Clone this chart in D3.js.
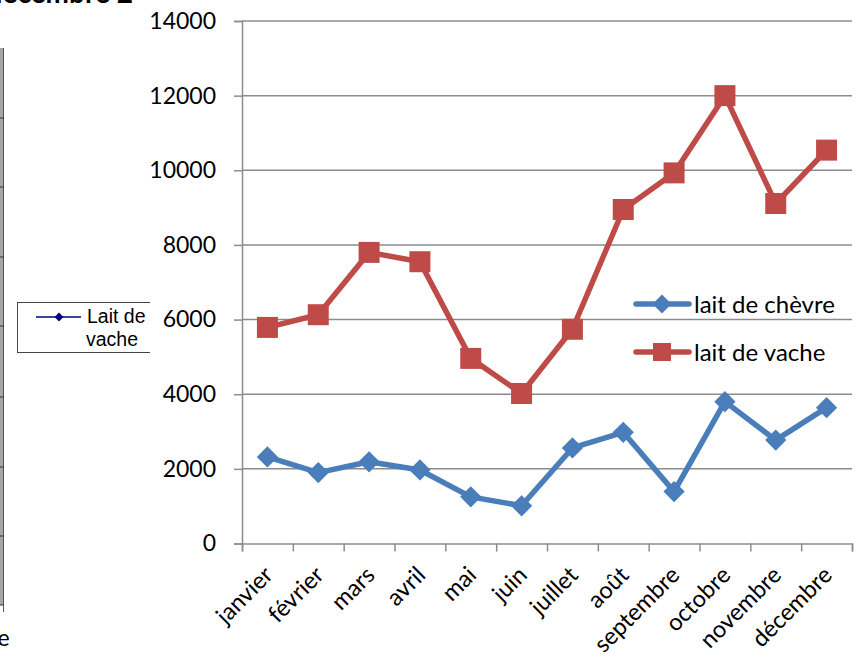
<!DOCTYPE html>
<html>
<head>
<meta charset="utf-8">
<script src="https://cdn.jsdelivr.net/npm/d3@7"></script>
<style>
  body { margin: 0; background: #fff; }
  svg { display: block; }
  .lbl { font-family: Lato, "Open Sans", sans-serif; fill: #000; }
</style>
</head>
<body>
<div id="chart"></div>
<script>
// data
const months = ["janvier", "février", "mars", "avril", "mai", "juin", "juillet",
  "août", "septembre", "octobre", "novembre", "décembre"];
const laitChevre = [2320, 1900, 2190, 1970, 1250, 1010, 2560, 2980, 1390, 3800, 2770, 3640];
const laitVache = [5790, 6130, 7800, 7550, 4960, 4020, 5740, 8950, 9930, 12000, 9110, 10540];
const yTicks = [0, 2000, 4000, 6000, 8000, 10000, 12000, 14000];
const seriesNames = ["lait de chèvre", "lait de vache"];

const W = 857, H = 661;
const plot = {left: 242, right: 852, top: 21, bottom: 543.5};

const svg = d3.select("#chart").append("svg")
  .attr("width", W)
  .attr("height", H);

// ---- bit of the other chart peeking in on the left ----
const old = svg.append("g");
old.append("text")
  .attr("x", 133).attr("y", 3)
  .attr("text-anchor", "end")
  .attr("font-family", "Lato, sans-serif")
  .attr("font-weight", "bold")
  .attr("font-size", 28)
  .text("décembre 2");

old.append("rect")
  .attr("x", 0).attr("y", 48).attr("width", 3.5).attr("height", 557)
  .attr("fill", "#a6a6a6");
old.append("line")
  .attr("x1", 3.5).attr("x2", 3.5).attr("y1", 48).attr("y2", 612)
  .attr("stroke", "#555").attr("stroke-width", 1);
[118, 187, 257, 326, 397, 467, 536, 605].forEach(t => {
  old.append("line")
    .attr("x1", 0).attr("x2", 4).attr("y1", t).attr("y2", t)
    .attr("stroke", "#333").attr("stroke-width", 1);
});
old.append("text")
  .attr("x", -8).attr("y", 646)
  .attr("font-family", "Lato, sans-serif")
  .attr("font-size", 23)
  .text("le");

const oldLeg = old.append("g");
oldLeg.append("rect")
  .attr("x", 17.5).attr("y", 302.5).attr("width", 160).attr("height", 50)
  .attr("fill", "#fff").attr("stroke", "#444");
oldLeg.append("line")
  .attr("x1", 36).attr("x2", 81).attr("y1", 317).attr("y2", 317)
  .attr("stroke", "#000080").attr("stroke-width", 1.5);
oldLeg.append("path")
  .attr("d", d3.symbol(d3.symbolDiamond2, 50)())
  .attr("transform", "translate(59,317)")
  .attr("fill", "#000080");
oldLeg.append("text")
  .attr("x", 87).attr("y", 323)
  .attr("font-family", "Liberation Sans, Arial, sans-serif")
  .attr("font-size", 19.5)
  .text("Lait de");
oldLeg.append("text")
  .attr("x", 86).attr("y", 346)
  .attr("font-family", "Liberation Sans, Arial, sans-serif")
  .attr("font-size", 19.5)
  .text("vache");

// main chart sits over it
svg.append("rect")
  .attr("x", 150).attr("y", 0).attr("width", W - 150).attr("height", H)
  .attr("fill", "#fff");

// ---- scales ----
const x = d3.scaleBand().domain(months).range([plot.left, plot.right]);
const xEdge = d3.scaleLinear().domain([0, months.length]).range([plot.left, plot.right]);
const y = d3.scaleLinear().domain([0, 14000]).range([plot.bottom, plot.top]);

// gridlines
svg.append("g")
  .selectAll("line")
  .data(yTicks.filter(d => d > 0))
  .join("line")
    .attr("x1", plot.left).attr("x2", plot.right)
    .attr("y1", d => y(d)).attr("y2", d => y(d))
    .attr("stroke", "#8c8c8c").attr("stroke-width", 1.5);

// y axis
const yAxis = svg.append("g")
  .attr("transform", `translate(${plot.left},0)`)
  .call(d3.axisLeft(y).tickValues(yTicks).tickSize(8).tickPadding(18).tickFormat(d3.format("d")));
yAxis.select(".domain").attr("stroke", "#8c8c8c").attr("stroke-width", 1.5);
yAxis.selectAll(".tick line").attr("stroke", "#8c8c8c").attr("stroke-width", 1.5);
yAxis.selectAll("text")
  .attr("class", "lbl")
  .attr("font-size", 23)
  .attr("fill", "#000");

// x axis (ticks between categories)
const xAxis = svg.append("g")
  .attr("transform", `translate(0,${plot.bottom})`)
  .call(d3.axisBottom(xEdge).tickValues(d3.range(months.length + 1)).tickSize(8).tickFormat(""));
xAxis.select(".domain").attr("stroke", "#8c8c8c").attr("stroke-width", 1.5);
xAxis.selectAll(".tick line").attr("stroke", "#8c8c8c").attr("stroke-width", 1.5);

svg.append("g")
  .selectAll("text")
  .data(months)
  .join("text")
    .attr("class", "lbl")
    .attr("font-size", 23.5)
    .attr("text-anchor", "end")
    .attr("transform", d => `translate(${x(d) + x.bandwidth() / 2 + 7},${plot.bottom + 33}) rotate(-45)`)
    .text(d => d);

// ---- series ----
const colors = ["#4a7ebb", "#be4b48"];
const series = [laitChevre, laitVache];
const line = d3.line()
  .x((d, i) => x(months[i]) + x.bandwidth() / 2)
  .y(d => y(d));

function marker(g, k, size) {
  if (k === 0) {
    g.append("path")
      .attr("d", d3.symbol(d3.symbolDiamond2, size * 1.2)())
      .attr("fill", colors[0]);
  } else {
    g.append("rect")
      .attr("x", -Math.sqrt(size) / 2).attr("y", -Math.sqrt(size) / 2)
      .attr("width", Math.sqrt(size)).attr("height", Math.sqrt(size))
      .attr("fill", colors[1]);
  }
}

// red drawn first, blue on top
[1, 0].forEach(k => {
  svg.append("path")
    .datum(series[k])
    .attr("fill", "none")
    .attr("stroke", colors[k])
    .attr("stroke-width", 5.5)
    .attr("stroke-linejoin", "round")
    .attr("d", line);
  svg.append("g")
    .selectAll("g")
    .data(series[k])
    .join("g")
      .attr("transform", (d, i) => `translate(${x(months[i]) + x.bandwidth() / 2},${y(d)})`)
      .each(function() { marker(d3.select(this), k, k === 0 ? 240 : 441); });
});

// legend
const leg = svg.append("g");
[304, 352].forEach((ly, k) => {
  leg.append("line")
    .attr("x1", 636).attr("x2", 689).attr("y1", ly).attr("y2", ly)
    .attr("stroke", colors[k]).attr("stroke-width", 5.5).attr("stroke-linecap", "round");
  const m = leg.append("g").attr("transform", `translate(662,${ly})`);
  marker(m, k, k === 0 ? 190 : 324);
  leg.append("text")
    .attr("class", "lbl")
    .attr("x", 694).attr("y", ly + 8.5)
    .attr("font-size", 24)
    .text(seriesNames[k]);
});
</script>
</body>
</html>
